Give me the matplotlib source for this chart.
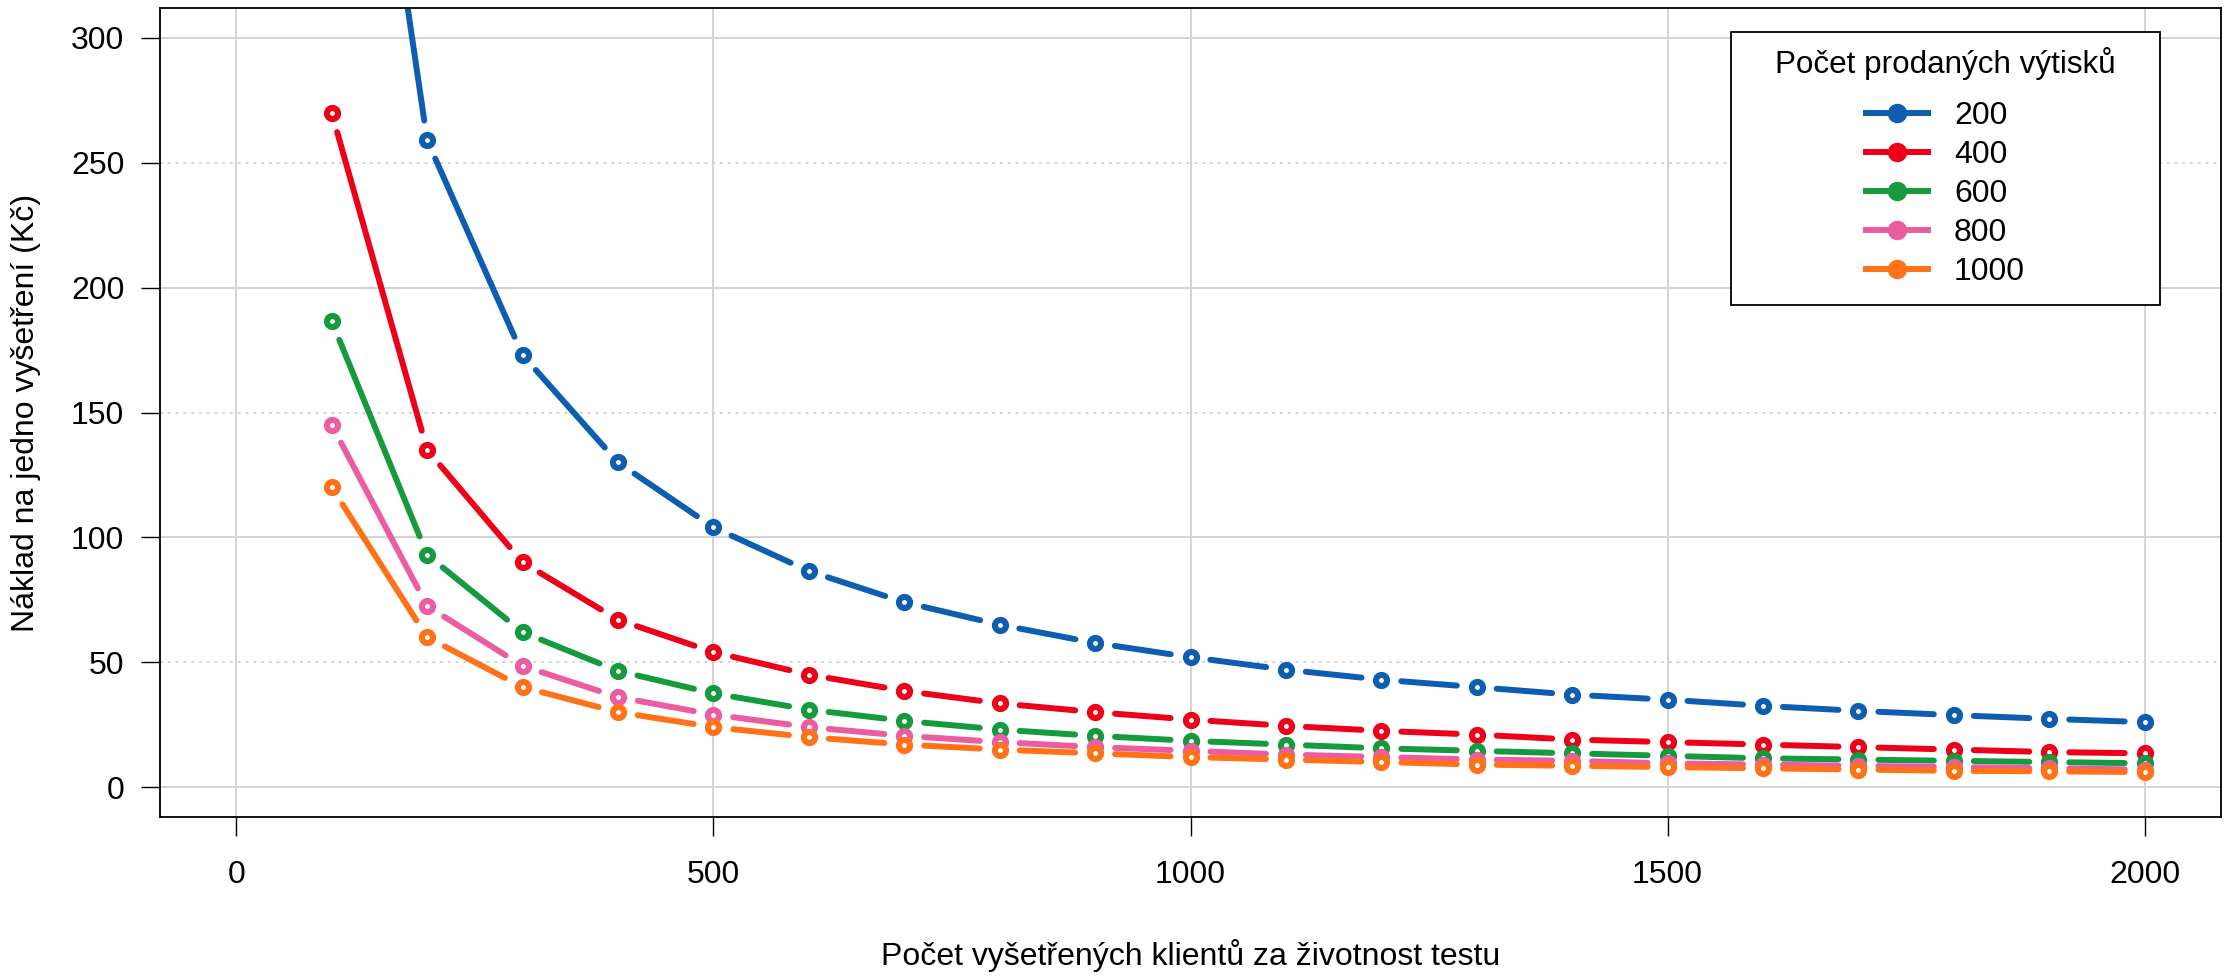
import numpy as np
import matplotlib
matplotlib.use("Agg")
from matplotlib import pyplot as plt
from matplotlib.collections import LineCollection
from matplotlib.lines import Line2D
from matplotlib.patches import Rectangle

plt.rcParams["font.family"] = ["Liberation Sans", "DejaVu Sans"]

# --- data ---
clients = [100, 200, 300, 400, 500, 600, 700, 800, 900, 1000,
           1100, 1200, 1300, 1400, 1500, 1600, 1700, 1800, 1900, 2000]

copies = ["200", "400", "600", "800", "1000"]

cost_200 = [519, 259, 173, 130, 104, 86.5, 74, 65, 57.7, 52,
            47, 43, 40, 37, 35, 32.5, 30.5, 28.8, 27.3, 26]
cost_400 = [270, 135, 90, 67, 54, 45, 38.5, 33.5, 30, 27,
            24.5, 22.5, 21, 19, 18, 17, 16, 15, 14, 13.5]
cost_600 = [186.5, 93, 62, 46.5, 37.5, 31, 26.5, 23, 20.5, 18.5,
            17, 15.5, 14.5, 13.5, 12.5, 11.5, 11, 10.5, 10, 9.5]
cost_800 = [145, 72.5, 48.5, 36, 29, 24, 20.5, 18, 16, 14.5,
            13, 12, 11, 10.5, 9.5, 9, 8.5, 8, 7.5, 7]
cost_1000 = [120, 60, 40, 30, 24, 20, 17, 15, 13.5, 12,
             11, 10, 9, 8.5, 8, 7.5, 7, 6.5, 6.3, 6]

series = [cost_200, cost_400, cost_600, cost_800, cost_1000]
colors = ["#0D5EB0", "#EE0018", "#169A3E", "#EC5CA0", "#FF7218"]

x_ticks = [0, 500, 1000, 1500, 2000]
y_ticks = [0, 50, 100, 150, 200, 250, 300]

FS = 23
LW = 4.3
W, H = 2229, 977
fig = plt.figure(figsize=(W / 100, H / 100), dpi=100)
ax = fig.add_axes([160 / W, 1 - 817 / H, (2221 - 160) / W, (817 - 8) / H])
ax.set_xlim(-80, 2080)
ax.set_ylim(-12, 312)

# grid: solid at the labelled hundreds, dotted at the fifties
for xv in x_ticks:
    ax.axvline(xv, color="#d3d3d3", lw=1.4, zorder=0)
for yv in y_ticks:
    if yv % 100 == 0:
        ax.axhline(yv, color="#d3d3d3", lw=1.4, zorder=0)
    else:
        ax.axhline(yv, color="#d3d3d3", lw=1.4, ls=(0, (1.5, 2.5)), zorder=0)


def gapped_segments(xs, ys, gap):
    """Line segments between points, shortened by `gap` px at both ends."""
    pts = ax.transData.transform(np.column_stack([xs, ys]))
    inv = ax.transData.inverted()
    segs = []
    for p, q in zip(pts[:-1], pts[1:]):
        d = q - p
        L = np.hypot(*d)
        if L <= 2 * gap:
            continue
        u = d / L
        segs.append(inv.transform(np.array([p + u * gap, q - u * gap])))
    return segs


for i, (vals, col) in enumerate(zip(series, colors)):
    lc = LineCollection(gapped_segments(clients, vals, 20), colors=col,
                        linewidths=LW, capstyle="round", zorder=2 + i)
    ax.add_collection(lc)
    ax.plot(clients, vals, ls="none", marker="o", ms=8.0, mew=4.4,
            mfc="white", mec=col, zorder=2 + i)

ax.set_xticks(x_ticks)
ax.set_yticks(y_ticks)
ax.tick_params(axis="both", direction="out", length=13.7, width=1.0,
               labelsize=FS, color="black")
ax.tick_params(axis="x", pad=17)
ax.tick_params(axis="y", pad=12)
for s in ax.spines.values():
    s.set_linewidth(1.3)

ax.set_xlabel("Počet vyšetřených klientů za životnost testu", fontsize=FS)
ax.xaxis.set_label_coords(0.5, (817 - 955) / (817 - 8))
ax.xaxis.label.set_va("center")
ax.set_ylabel("Náklad na jedno vyšetření (Kč)", fontsize=FS)
ax.yaxis.set_label_coords((26 - 160) / (2221 - 160), 0.5)
ax.yaxis.label.set_va("center")

# legend: framed box, centred title, centred block of entries
box = Rectangle((1731 / W, 1 - 305 / H), 429 / W, 273 / H,
                transform=fig.transFigure, facecolor="white",
                edgecolor="black", lw=1.3, zorder=8)
box.set_clip_on(False)
ax.add_patch(box)
fig.text((1731 + 2160) / 2 / W, 1 - 64 / H, "Počet prodaných výtisků",
         ha="center", va="center", fontsize=22.6, zorder=10)

handles = [Line2D([], [], color=c, lw=LW, marker="o", ms=13, mfc=c, mec=c)
           for c in colors]
leg = ax.legend(handles, copies, loc="upper center",
                bbox_to_anchor=((1731 + 2160) / 2 / W, 1 - 101 / H),
                bbox_transform=fig.transFigure, frameon=False,
                fontsize=FS, handlelength=1.95, handletextpad=0.8,
                labelspacing=0.28, borderpad=0, borderaxespad=0)
leg.set_zorder(9)

fig.savefig("out.png", dpi=100)
